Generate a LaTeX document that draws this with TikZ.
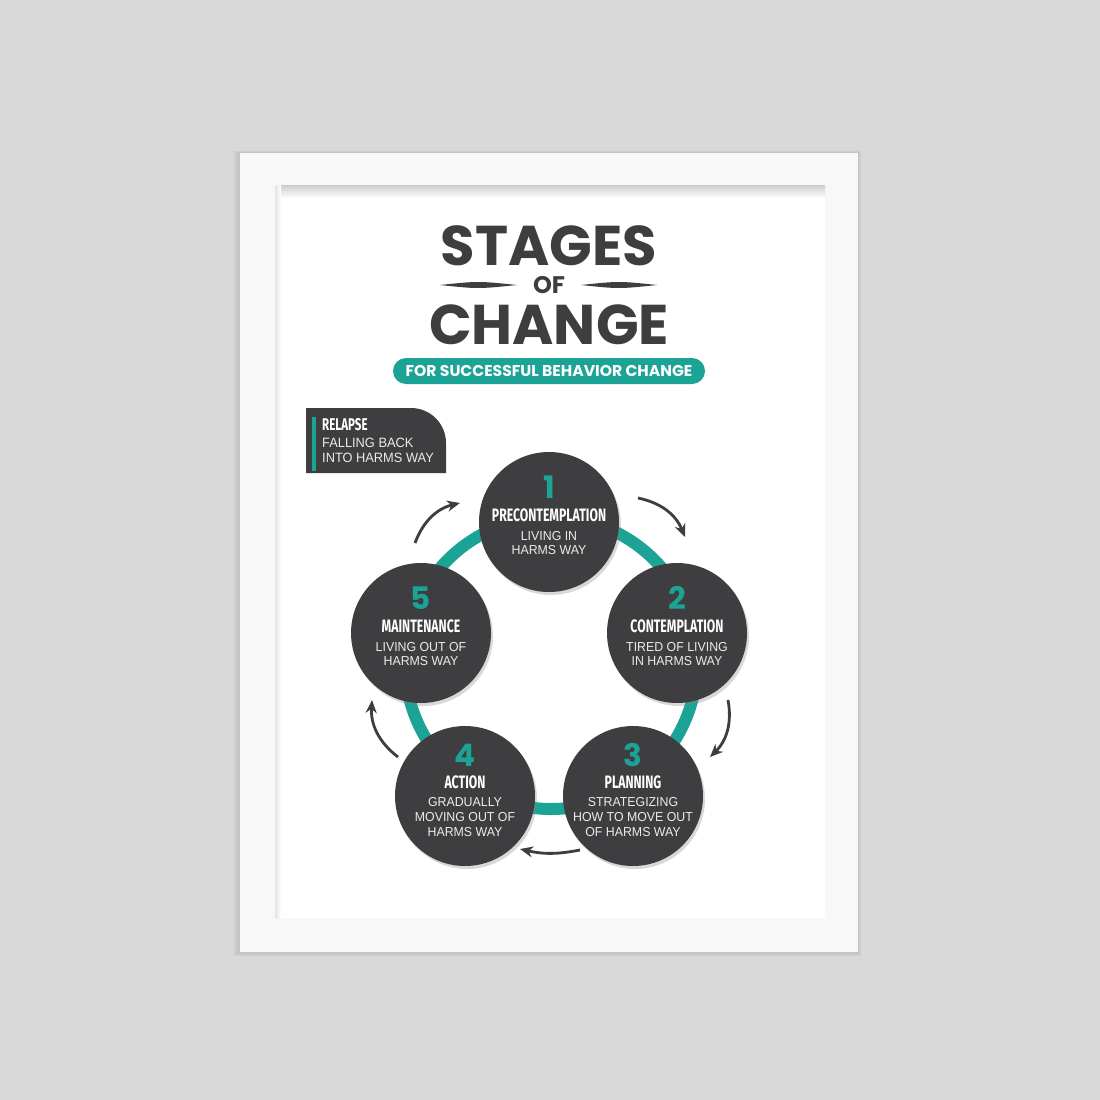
\documentclass[tikz,border=0pt]{standalone}
\usepackage{fontspec}
\setmainfont{Liberation Sans}
\newfontfamily\headfont{Poppins}
\newfontfamily\condfont{Fira Sans}[FakeStretch=0.68]
\newfontfamily\subfont{Liberation Sans}[FakeStretch=0.95]
\usetikzlibrary{
    positioning,
    arrows.meta,
    calc,
    shadows
}
\definecolor{wallGray}{RGB}{217,217,218}
\definecolor{inkGray}{RGB}{62,62,64}
\definecolor{stageTeal}{RGB}{27,163,150}
\definecolor{frameWhite}{RGB}{248,248,248}

\tikzset{
    stage/.style={circle, fill=inkGray, minimum size=140pt, inner sep=0pt,
        drop shadow={opacity=0.3, shadow xshift=2pt, shadow yshift=-3pt}},
    stagenum/.style={text=stageTeal, font=\headfont\bfseries\fontsize{31}{31}\selectfont, inner sep=0pt},
    stagename/.style={text=white, font=\condfont\bfseries\fontsize{18}{18}\selectfont, inner sep=0pt},
    stagetext/.style={text=white!92!black, font=\subfont\fontsize{13}{14.8}\selectfont, align=center, inner sep=0pt},
    titletext/.style={text=inkGray, inner sep=0pt, text depth=0pt},
    flow/.style={-{Stealth[length=13pt,width=11pt]}, line width=2.8pt, inkGray, bend left=28}
}

\begin{document}
\begin{tikzpicture}[x=1pt, y=-1pt]
    % wall and frame
    \fill[wallGray] (0,0) rectangle (1100,1100);
    \useasboundingbox (0,0) rectangle (1100,1100);
    \fill[black, opacity=0.05] (234,151) rectangle (861,956);
    \fill[black, opacity=0.04] (237,152) rectangle (859,954);
    \fill[frameWhite] (240,153) rectangle (858,952);
    \fill[white] (275,185) rectangle (825,918);
    \shade[top color=black!20, bottom color=white] (275,185) rectangle (825,198);
    \shade[left color=black!10, right color=white] (275,185) rectangle (281,918);

    % title
    \node[titletext, text height=40pt, font=\headfont\bfseries\fontsize{56}{56}\selectfont] (stages) at (549,245) {STAGES};
    \node[titletext, text height=17pt, font=\headfont\bfseries\fontsize{24}{24}\selectfont] (of) at (549,285) {OF};
    \fill[inkGray] (440,285) .. controls (478,281) .. (517,285) .. controls (478,289) .. (440,285);
    \fill[inkGray] (581,285) .. controls (619,281) .. (657,285) .. controls (619,289) .. (581,285);
    \node[titletext, text height=40pt, font=\headfont\bfseries\fontsize{56}{56}\selectfont] (change) at (549,324) {CHANGE};
    \node[fill=stageTeal, rounded corners=13pt, minimum width=312pt, minimum height=26pt, inner sep=0pt,
        text=white, font=\headfont\bfseries\fontsize{15.6}{15.6}\selectfont] (tagline) at (549,371) {FOR SUCCESSFUL BEHAVIOR CHANGE};

    % relapse
    \fill[inkGray] (306,408) -- (411,408) arc[start angle=-90, end angle=0, radius=35] -- (446,473) -- (306,473) -- cycle;
    \fill[stageTeal] (312,417) rectangle (316,471);
    \node[anchor=west, text=white, font=\condfont\bfseries\fontsize{17}{17}\selectfont, inner sep=0pt] (relapse) at (322,425) {RELAPSE};
    \node[anchor=north west, text=white!92!black, font=\subfont\fontsize{13.5}{15}\selectfont, align=left, inner sep=0pt] (fallback) at (322,438) {FALLING BACK\\INTO HARMS WAY};

    % cycle
    \draw[stageTeal, line width=12pt] (551,663) circle (146);

    \node[stage] (s1) at (549,522) {};
    \node[stage] (s2) at (677,633) {};
    \node[stage] (s3) at (633,796) {};
    \node[stage] (s4) at (465,796) {};
    \node[stage] (s5) at (421,633) {};

    \node[stagenum] (n1) at ($(s1)+(0,-35)$) {1};
    \node[stagename] (t1) at ($(s1)+(0,-7)$) {PRECONTEMPLATION};
    \node[stagetext] (d1) at ($(s1)+(0,21)$) {LIVING IN\\HARMS WAY};

    \node[stagenum] (n2) at ($(s2)+(0,-35)$) {2};
    \node[stagename] (t2) at ($(s2)+(0,-7)$) {CONTEMPLATION};
    \node[stagetext] (d2) at ($(s2)+(0,21)$) {TIRED OF LIVING\\IN HARMS WAY};

    \node[stagenum] (n3) at ($(s3)+(0,-41)$) {3};
    \node[stagename] (t3) at ($(s3)+(0,-14)$) {PLANNING};
    \node[stagetext] (d3) at ($(s3)+(0,21)$) {STRATEGIZING\\HOW TO MOVE OUT\\OF HARMS WAY};

    \node[stagenum] (n4) at ($(s4)+(0,-41)$) {4};
    \node[stagename] (t4) at ($(s4)+(0,-14)$) {ACTION};
    \node[stagetext] (d4) at ($(s4)+(0,21)$) {GRADUALLY\\MOVING OUT OF\\HARMS WAY};

    \node[stagenum] (n5) at ($(s5)+(0,-35)$) {5};
    \node[stagename] (t5) at ($(s5)+(0,-7)$) {MAINTENANCE};
    \node[stagetext] (d5) at ($(s5)+(0,21)$) {LIVING OUT OF\\HARMS WAY};

    % arrows between stages
    \coordinate (a1s) at (638,498);
    \coordinate (a1e) at (685,537);
    \coordinate (a2s) at (728,700);
    \coordinate (a2e) at (710,757);
    \coordinate (a3s) at (580,850);
    \coordinate (a3e) at (520,849);
    \coordinate (a4s) at (398,757);
    \coordinate (a4e) at (372,700);
    \coordinate (a5s) at (415,543);
    \coordinate (a5e) at (460,503);
    \draw[flow] (a1s) to (a1e);
    \draw[flow] (a2s) to (a2e);
    \draw[flow, bend left=12] (a3s) to (a3e);
    \draw[flow] (a4s) to (a4e);
    \draw[flow] (a5s) to (a5e);
\end{tikzpicture}
\end{document}
